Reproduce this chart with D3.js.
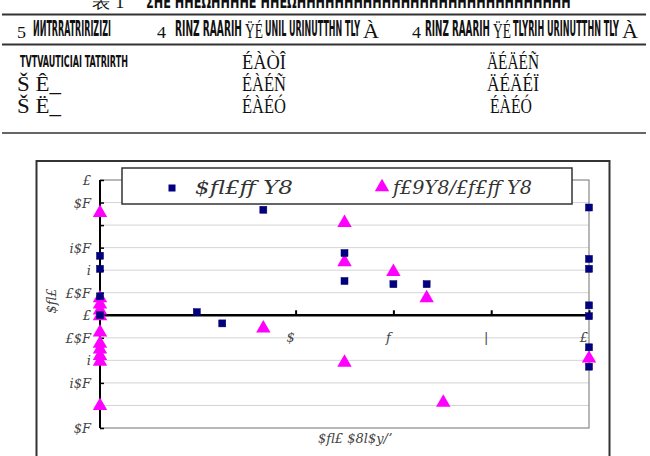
<!DOCTYPE html>
<html><head><meta charset="utf-8">
<script src="https://cdn.jsdelivr.net/npm/d3@7"></script>
<style>body{margin:0;background:#fff}svg{display:block}</style>
</head><body>
<svg id="c" width="650" height="456"></svg>
<script>
// ---- data ----
const yTickValues = [0.30, 0.25, 0.15, 0.10, 0.05, 0, -0.05, -0.10, -0.15, -0.25];
const yTickLabels = ["£", "$F", "i$F", "i", "£$F", "£", "£$F", "i", "i$F", "$F"];
const gridValues = [0.30, 0.25, 0.20, 0.15, 0.10, 0.05, -0.05, -0.10, -0.15, -0.20, -0.25];
const xTickValues = [1, 2, 3, 4, 5];
const xTickLabels = ["", "$", "f", "|", "£"];
const seriesNames = ["$fl£ff Y8", "f£9Y8/£f£ff Y8"];
const squaresX = [0, 0, 0, 0, 0.99, 1.25, 1.67, 2.5, 2.5, 3.0, 3.34, 5, 5, 5, 5, 5, 5, 5];
const squaresY = [0.132, 0.103, 0.042, 0.0, 0.007, -0.018, 0.234, 0.138, 0.076, 0.069, 0.069, 0.239, 0.125, 0.103, 0.022, -0.002, -0.071, -0.114];
const trianglesX = [0, 2.5, 2.5, 3.0, 3.34, 1.67, 2.5, 3.51, 5, 0, 0, 0, 0, 0, 0, 0, 0, 0, 0];
const trianglesY = [0.225, 0.203, 0.116, 0.094, 0.036, -0.031, -0.107, -0.196, -0.098,
                    0.036, 0.022, 0.009, -0.004, -0.040, -0.065, -0.078, -0.092, -0.105, -0.203];
const tableTitle = ["表 1", "ΣΗΕ ΗΗΕΩΗΗΗΗΕ ΗΗΕΩΗΗΗΗΗΗΗΗΗΗΗΗΗΗΗΗΗΗΗΗΗΗΗΗΗΗΗΗΗ"];
const headerCells = [["5", "ИИTRRATRIRIZIZI"], ["4", "RINZ RAARIH", "ŸÉ", "UNIL URINUTTHN TLY", "À"], ["4", "RINZ RAARIH", "ŸÉ", "TLYRIH URINUTTHN TLY", "À"]];
const rowLabels = ["TVTVAUTICIAI TATRIRTH", "Š Ê_", "Š Ë_"];
const col1Values = ["ÉÀÒÎ", "ÉÀÉÑ", "ÉÀÉÓ"];
const col2Values = ["ÄÉÄÉÑ", "ÄÉÄÉÏ", "ÉÀÉÓ"];
const xTitle = "$fl£ $8l$y/ʼ";
const yTitle = "$fl£";

const svg = d3.select("#c");
const garbFont = "'DejaVu Sans Condensed', 'DejaVu Sans', sans-serif";
const serif = "'Liberation Serif', 'DejaVu Serif', serif";

// ---- table ----
function gtext(x, y, str, w, size, fam, weight) {
  const t = svg.append("text").attr("x", 0).attr("y", 0).text(str)
    .style("font-family", fam || garbFont).style("font-size", size + "px")
    .style("font-weight", weight || "bold").attr("fill", "#111");
  const nat = t.node().getComputedTextLength();
  const sx = w ? w / nat : 1;
  t.attr("transform", `translate(${x},${y}) scale(${sx},1)`);
  return t;
}
gtext(92, 8, tableTitle[0], 32, 17, serif, "normal");
gtext(146, 8, tableTitle[1], 425, 17);
svg.append("line").attr("x1", 2).attr("x2", 646).attr("y1", 14.5).attr("y2", 14.5).attr("stroke", "#333").attr("stroke-width", 2);
svg.append("line").attr("x1", 2).attr("x2", 646).attr("y1", 44.5).attr("y2", 44.5).attr("stroke", "#333").attr("stroke-width", 2);
svg.append("line").attr("x1", 2).attr("x2", 646).attr("y1", 133).attr("y2", 133).attr("stroke", "#333").attr("stroke-width", 1.5);

gtext(17, 38, headerCells[0][0], 9, 17, serif, "normal");
gtext(33, 36, headerCells[0][1], 78, 21);
gtext(157, 38, headerCells[1][0], 9, 17, serif, "normal");
gtext(175, 36, headerCells[1][1], 67, 21);
gtext(245, 38, headerCells[1][2], 18, 21, serif, "normal");
gtext(265, 36, headerCells[1][3], 95, 21);
gtext(363, 38, headerCells[1][4], 16, 22, serif, "normal");
gtext(412, 38, headerCells[2][0], 9, 17, serif, "normal");
gtext(425, 36, headerCells[2][1], 65, 21);
gtext(493, 38, headerCells[2][2], 18, 21, serif, "normal");
gtext(513, 36, headerCells[2][3], 106, 21);
gtext(622, 38, headerCells[2][4], 16, 22, serif, "normal");

const rowY = [69, 91, 113];
gtext(20, rowY[0] - 2, rowLabels[0], 108, 15);
gtext(17, rowY[1], rowLabels[1], 44, 22, serif, "normal");
gtext(17, rowY[2], rowLabels[2], 44, 22, serif, "normal");
col1Values.forEach((v, i) => gtext(242, rowY[i], v, 44, 22, serif, "normal"));
col2Values.forEach((v, i) => gtext(i === 2 ? 490 : 487, rowY[i], v, i === 2 ? 42 : 52, 22, serif, "normal"));

// ---- chart ----
svg.append("rect").attr("x", 36.5).attr("y", 161).attr("width", 573).attr("height", 320)
  .attr("fill", "#fff").attr("stroke", "#333").attr("stroke-width", 2);

const x = d3.scaleLinear().domain([0, 5]).range([100, 589]);
const y = d3.scaleLinear().domain([-0.25, 0.30]).range([428, 180]);

svg.append("g").selectAll("line").data(gridValues).join("line")
  .attr("x1", x(0)).attr("x2", x(5)).attr("y1", d => y(d)).attr("y2", d => y(d))
  .attr("stroke", "#d4d4d4").attr("stroke-width", 1);
svg.append("path").attr("d", `M${x(0)},${y(0.30)}H${x(5)}V${y(-0.25)}H${x(0)}`)
  .attr("fill", "none").attr("stroke", "#888").attr("stroke-width", 1.2);

const yAxis = d3.axisRight(y).tickValues(gridValues.concat([0])).tickSize(4).tickFormat("");
const ya = svg.append("g").attr("transform", `translate(${x(0)},0)`).call(yAxis);
ya.select(".domain").attr("stroke", "#000").attr("stroke-width", 2).attr("d", `M0,${y(0.30)}V${y(-0.25)}`);
ya.selectAll(".tick line").attr("stroke", "#000").attr("stroke-width", 1.5);
svg.append("g").selectAll("text").data(yTickValues).join("text")
  .attr("x", 91).attr("y", d => y(d) + 5).attr("text-anchor", "end")
  .attr("font-family", "'DejaVu Serif', serif").attr("font-style", "italic").attr("font-size", 13)
  .attr("fill", "#444").text((d, i) => yTickLabels[i]);

const xAxis = d3.axisTop(x).tickValues(xTickValues).tickSize(5).tickFormat("");
const xa = svg.append("g").attr("transform", `translate(0,${y(0)})`).call(xAxis);
xa.select(".domain").attr("stroke", "#000").attr("stroke-width", 2.5).attr("d", `M${x(0)},0H${x(5)}`);
xa.selectAll(".tick line").attr("stroke", "#000").attr("stroke-width", 2);
svg.append("g").selectAll("text").data(xTickValues).join("text")
  .attr("x", d => x(d) - 5).attr("y", y(0) + 27).attr("text-anchor", "middle")
  .attr("font-family", "'DejaVu Serif', serif").attr("font-style", "italic").attr("font-size", 13)
  .attr("fill", "#444").text((d, i) => xTickLabels[i]);

svg.append("text").attr("x", 355).attr("y", 443).attr("text-anchor", "middle")
  .attr("font-family", "'DejaVu Serif', serif").attr("font-style", "italic").attr("font-size", 13)
  .attr("fill", "#444").text(xTitle);
svg.append("text").attr("transform", "translate(56,301) rotate(-90)").attr("text-anchor", "middle")
  .attr("font-family", "'DejaVu Serif', serif").attr("font-style", "italic").attr("font-size", 13)
  .attr("fill", "#444").text(yTitle);

const tri = d3.symbol().type(d3.symbolTriangle).size(90);
svg.append("g").selectAll("path").data(trianglesX.map((v, i) => [v, trianglesY[i]])).join("path")
  .attr("d", tri).attr("transform", d => `translate(${x(d[0])},${y(d[1]) - 1})`)
  .attr("fill", "#ff00ff");
svg.append("g").selectAll("rect").data(squaresX.map((v, i) => [v, squaresY[i]])).join("rect")
  .attr("x", d => x(d[0]) - 3.5).attr("y", d => y(d[1]) - 3.5).attr("width", 7).attr("height", 7)
  .attr("fill", "#000080").attr("stroke", "#000060").attr("stroke-width", 0.5);

svg.append("rect").attr("x", 122).attr("y", 168).attr("width", 450).attr("height", 36)
  .attr("fill", "#fff").attr("stroke", "#333").attr("stroke-width", 1.5);
svg.append("rect").attr("x", 168.5).attr("y", 184.5).attr("width", 7).attr("height", 7).attr("fill", "#000080");
svg.append("text").attr("x", 195).attr("y", 194).text(seriesNames[0])
  .attr("font-family", "'DejaVu Serif', serif").attr("font-style", "italic").attr("font-size", 18)
  .attr("fill", "#333").attr("textLength", 98).attr("lengthAdjust", "spacingAndGlyphs");
svg.append("path").attr("d", tri).attr("transform", "translate(382,187)").attr("fill", "#ff00ff");
svg.append("text").attr("x", 393).attr("y", 194).text(seriesNames[1])
  .attr("font-family", "'DejaVu Serif', serif").attr("font-style", "italic").attr("font-size", 18)
  .attr("fill", "#333").attr("textLength", 139).attr("lengthAdjust", "spacingAndGlyphs");
</script>
</body></html>
